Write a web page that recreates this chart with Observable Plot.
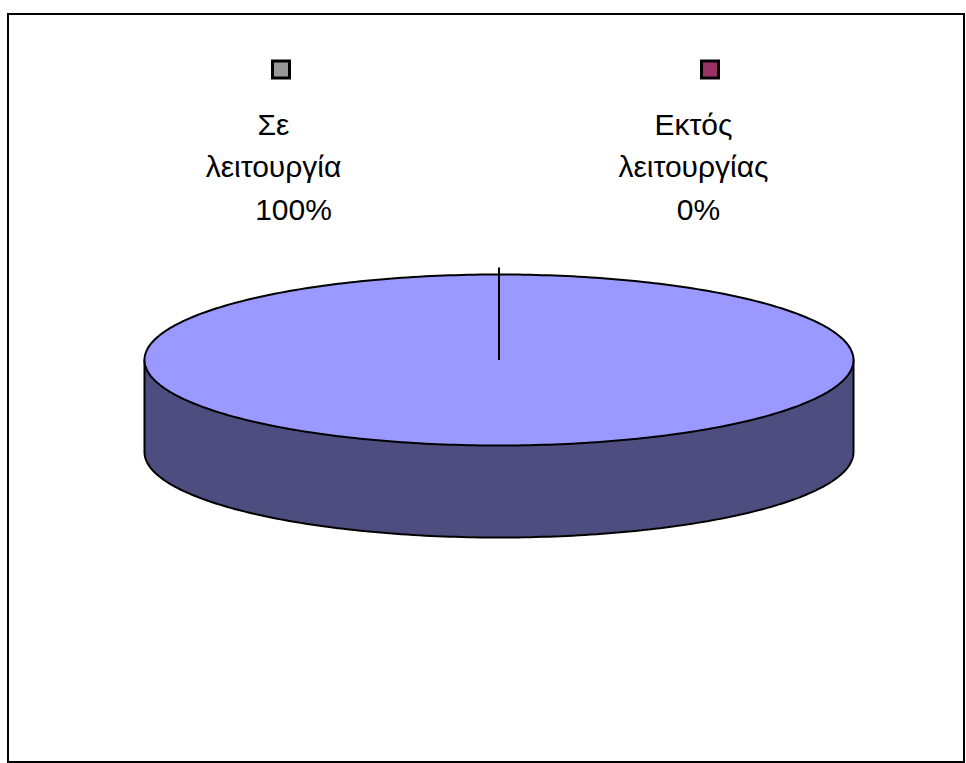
<!DOCTYPE html>
<html>
<head>
<meta charset="utf-8">
<script src="https://cdn.jsdelivr.net/npm/d3@7"></script>
<script src="https://cdn.jsdelivr.net/npm/@observablehq/plot@0.6"></script>
<style>
  html, body { margin: 0; padding: 0; background: #fff; }
  #chart svg { display: block; }
</style>
</head>
<body>
<div id="chart"></div>
<script>
// ---- data ----
const categories = ["Σε λειτουργία", "Εκτός λειτουργίας"];
const values = [100, 0];
const colors = ["#999999", "#993366"];

// ---- layout ----
const W = 966, H = 763;
const cx = 498.5, cy = 359.5, rx = 354.5, ry = 85.5, depth = 92;
const topFill = "#9999FF", sideFill = "#4D4D80";
const legendX = [281, 710], legendY = 69.5, sq = 17;
const labelX = [273, 693], pctX = [293, 698];
const lineY = [125, 167, 210];

const total = d3.sum(values);
const pie = d3.pie().sort(null).startAngle(0).endAngle(2 * Math.PI)(values);

// ellipse geometry (angle measured clockwise from 12 o'clock)
const pt = a => ({x: cx + rx * Math.sin(a), y: cy - ry * Math.cos(a)});
const N = 360;
const topPts = d3.range(N + 1).map(i => pt(2 * Math.PI * i / N));
// front side: angles from π/2 to 3π/2 (lower half)
const sidePts = d3.range(N / 2 + 1).map(i => {
  const p = pt(Math.PI / 2 + Math.PI * i / (N / 2));
  return {x: p.x, y1: p.y, y2: p.y + depth};
});
const sideOutline = [
  {x: cx + rx, y: cy},
  ...sidePts.map(d => ({x: d.x, y: d.y2})),
  {x: cx - rx, y: cy}
];

// slice boundary edges (from the pie layout)
const edges = [];
pie.forEach(s => {
  const p = pt(s.startAngle);
  if (!edges.some(e => Math.abs(e.x2 - p.x) < 0.01 && Math.abs(e.y2 - (p.y - 7)) < 0.01))
    edges.push({x1: cx, y1: cy, x2: p.x, y2: p.y - 7});
});

// labels
const labels = [];
categories.forEach((c, i) => {
  const words = c.split(" ");
  const pct = Math.round(values[i] / total * 100) + "%";
  labels.push({x: labelX[i], y: lineY[0], text: words[0]});
  labels.push({x: labelX[i], y: lineY[1], text: words.slice(1).join(" ")});
  labels.push({x: pctX[i], y: lineY[2], text: pct});
});

const legend = categories.map((c, i) => ({c, i, x1: legendX[i] - sq / 2, x2: legendX[i] + sq / 2, y1: legendY - sq / 2, y2: legendY + sq / 2, fill: colors[i]}));

const chart = Plot.plot({
  width: W,
  height: H,
  margin: 0,
  x: {type: "identity", axis: null},
  y: {type: "identity", axis: null},
  style: {fontFamily: "'Liberation Sans', Arial, sans-serif", background: "white"},
  marks: [
    Plot.rect([0], {x1: 8, x2: 964, y1: 14, y2: 762, fill: "white", stroke: "black", strokeWidth: 2}),
    Plot.areaY(sidePts, {x: "x", y1: "y1", y2: "y2", fill: sideFill}),
    Plot.line(sideOutline, {x: "x", y: "y", stroke: "black", strokeWidth: 2}),
    Plot.line(topPts, {x: "x", y: "y", fill: topFill, stroke: "black", strokeWidth: 2}),
    Plot.link(edges, {x1: "x1", y1: "y1", x2: "x2", y2: "y2", stroke: "black", strokeWidth: 2}),
    Plot.rect(legend, {x1: "x1", x2: "x2", y1: "y1", y2: "y2", fill: "fill", stroke: "black", strokeWidth: 3}),
    Plot.text(labels, {x: "x", y: "y", text: "text", fontSize: 30, fill: "black", textAnchor: "middle", lineAnchor: "middle"})
  ]
});
document.getElementById("chart").append(chart);
</script>
</body>
</html>
